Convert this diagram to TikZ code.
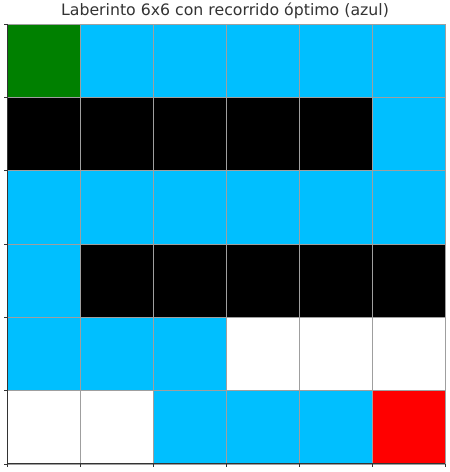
\documentclass[tikz,border=0pt]{standalone}
\usepackage{fontspec}
\setmainfont{DejaVu Sans}
\usetikzlibrary{positioning}
\definecolor{mzG}{RGB}{0,128,0}
\definecolor{mzB}{RGB}{0,191,255}
\definecolor{mzK}{RGB}{0,0,0}
\definecolor{mzW}{RGB}{255,255,255}
\definecolor{mzR}{RGB}{255,0,0}

\begin{document}
\begin{tikzpicture}[x=1bp, y=1bp]
    \useasboundingbox (0,0) rectangle (450,472);

    % Cells (rows from top)
    \foreach \row [count=\j from 1] in {{G,B,B,B,B,B},{K,K,K,K,K,B},{B,B,B,B,B,B},{B,K,K,K,K,K},{B,B,B,W,W,W},{W,W,B,B,B,R}} {
        \foreach \c [count=\i from 0] in \row {
            \fill[mz\c] (7+73*\i, 448-73.333*\j) rectangle (7+73*\i+73, 448-73.333*\j+73.333);
        }
    }

    % Grid
    \foreach \k in {0,...,6} {
        \draw[gray!75, line width=0.8bp] (7+73*\k, 8) -- (7+73*\k, 448);
        \draw[gray!75, line width=0.8bp] (7, 8+73.333*\k) -- (445, 8+73.333*\k);
        \draw[black!80, line width=0.8bp] (7+73*\k, 8) -- (7+73*\k, 4.5); % tick
        \draw[black!80, line width=0.8bp] (7, 8+73.333*\k) -- (3.5, 8+73.333*\k); % tick
    }

    % Axes
    \draw[black!80, line width=1bp] (7,448) -- (7,8) -- (445,8);

    % Title
    \node[font=\fontsize{15.8}{18}\selectfont, text=black!80] (title) at (225,461) {Laberinto 6x6 con recorrido óptimo (azul)};
\end{tikzpicture}
\end{document}
